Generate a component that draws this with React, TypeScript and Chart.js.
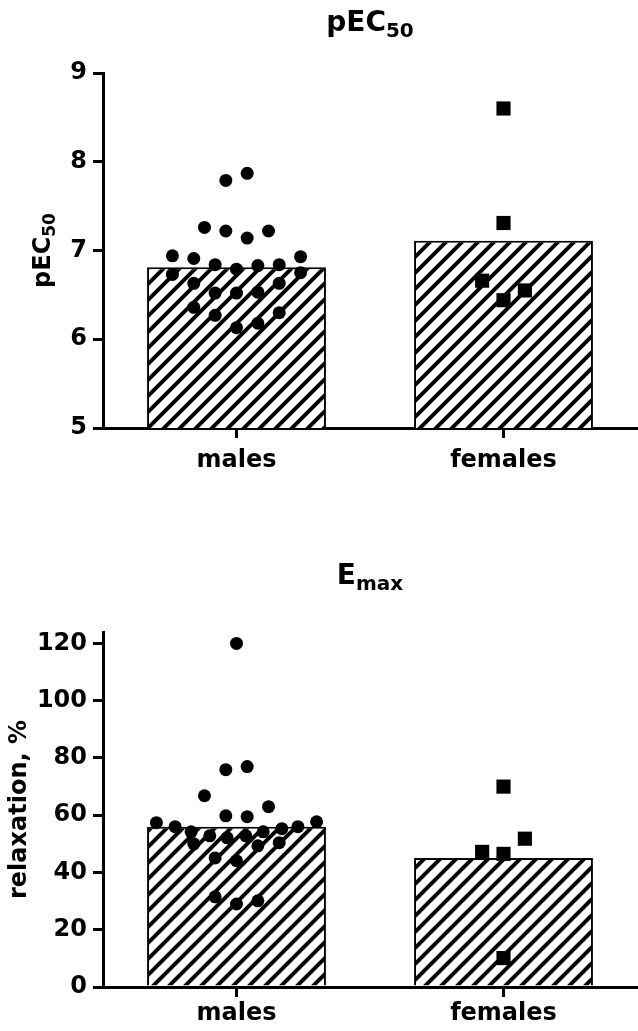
import React, { useEffect, useRef } from "react";
import { Chart, registerables } from "chart.js";

Chart.register(...registerables);

const categories = ["males", "females"];

// pEC50
const pec50Means = [6.81, 7.11];
const pec50Males = [
  7.79, 7.87, 7.26, 7.22, 7.14, 7.22, 6.94, 6.91, 6.84, 6.79, 6.83, 6.84, 6.93,
  6.73, 6.75, 6.63, 6.63, 6.52, 6.52, 6.53, 6.36, 6.27, 6.3, 6.13, 6.18,
];
const pec50MalesJitter = [
  -0.04, 0.04, -0.12, -0.04, 0.04, 0.12, -0.24, -0.16, -0.08, 0, 0.08, 0.16,
  0.24, -0.24, 0.24, -0.16, 0.16, -0.08, 0, 0.08, -0.16, -0.08, 0.16, 0, 0.08,
];
const pec50Females = [8.6, 7.31, 6.66, 6.44, 6.55];
const pec50FemalesJitter = [0, 0, -0.08, 0, 0.08];
const pec50Ticks = [5, 6, 7, 8, 9];

// Emax
const emaxMeans = [56.0, 45.1];
const emaxMales = [
  120, 75.9, 77, 66.8, 59.8, 59.5, 63, 57.4, 56, 54.2, 52.8, 52.1, 52.8, 54.2,
  55.3, 56, 57.7, 50, 49.3, 50.4, 45.1, 44.1, 31.5, 29, 30.1,
];
const emaxMalesJitter = [
  0, -0.04, 0.04, -0.12, -0.04, 0.04, 0.12, -0.3, -0.23, -0.17, -0.1, -0.035,
  0.035, 0.1, 0.17, 0.23, 0.3, -0.16, 0.08, 0.16, -0.08, 0, -0.08, 0, 0.08,
];
const emaxFemales = [70, 51.8, 47.2, 46.5, 10.1];
const emaxFemalesJitter = [0, 0.08, -0.08, 0, 0];
const emaxTicks = [0, 20, 40, 60, 80, 100, 120];

const FONT = '"DejaVu Sans", sans-serif';
const WIDTH = 638;

function makeHatch(ctx: CanvasRenderingContext2D) {
  const c = document.createElement("canvas");
  c.width = 16;
  c.height = 16;
  const g = c.getContext("2d")!;
  g.fillStyle = "#fff";
  g.fillRect(0, 0, 16, 16);
  g.strokeStyle = "#000";
  g.lineWidth = 4;
  g.beginPath();
  g.moveTo(-4, 4);
  g.lineTo(4, -4);
  g.moveTo(0, 16);
  g.lineTo(16, 0);
  g.moveTo(12, 20);
  g.lineTo(20, 12);
  g.stroke();
  return ctx.createPattern(c, "repeat")!;
}

// texte avec indice, centré sur x
function drawSub(
  ctx: CanvasRenderingContext2D,
  x: number,
  y: number,
  main: string,
  sub: string,
  size: number,
  subSize: number,
  drop: number
) {
  ctx.textAlign = "left";
  ctx.textBaseline = "alphabetic";
  ctx.font = `bold ${size}px ${FONT}`;
  const wm = ctx.measureText(main).width;
  ctx.font = `bold ${subSize}px ${FONT}`;
  const ws = sub ? ctx.measureText(sub).width : 0;
  const start = x - (wm + ws) / 2;
  ctx.font = `bold ${size}px ${FONT}`;
  ctx.fillText(main, start, y);
  if (sub) {
    ctx.font = `bold ${subSize}px ${FONT}`;
    ctx.fillText(sub, start + wm, y + drop);
  }
}

interface DotBarProps {
  height: number;
  plotTop: number;
  xAxisHeight: number;
  xLabelPad: number;
  yMin: number;
  yMax: number;
  ticks: number[];
  means: number[];
  males: number[];
  malesJitter: number[];
  females: number[];
  femalesJitter: number[];
  title: [string, string];
  titleY: number;
  yTitle: [string, string];
  yTitleX: number;
}

function DotBarChart(p: DotBarProps) {
  const canvasRef = useRef<HTMLCanvasElement>(null);
  const chartRef = useRef<Chart | null>(null);

  useEffect(() => {
    if (!canvasRef.current) return;
    const ctx = canvasRef.current.getContext("2d");
    if (!ctx) return;
    if (chartRef.current) chartRef.current.destroy();

    const pattern = makeHatch(ctx);
    const font = { family: FONT, size: 24, weight: "bold" as const };

    const labelPlugin = {
      id: "subLabels",
      afterDraw(chart: Chart) {
        const { ctx: c, chartArea } = chart;
        c.save();
        c.fillStyle = "#000";
        drawSub(c, (chartArea.left + chartArea.right) / 2, p.titleY, p.title[0], p.title[1], 28, 20, 6);
        c.translate(p.yTitleX, (chartArea.top + chartArea.bottom) / 2);
        c.rotate(-Math.PI / 2);
        drawSub(c, 0, 0, p.yTitle[0], p.yTitle[1], 24, 17, 5);
        c.restore();
      },
    };

    chartRef.current = new Chart(ctx, {
      type: "bar",
      data: {
        labels: categories,
        datasets: [
          {
            type: "scatter",
            label: categories[0],
            data: p.males.map((v, i) => ({ x: 0 + p.malesJitter[i], y: v })),
            xAxisID: "xs",
            pointStyle: "circle",
            pointRadius: 6.5,
            backgroundColor: "#000",
            borderWidth: 0,
            order: 0,
          },
          {
            type: "scatter",
            label: categories[1],
            data: p.females.map((v, i) => ({ x: 1 + p.femalesJitter[i], y: v })),
            xAxisID: "xs",
            pointStyle: "rect",
            pointRadius: 10,
            backgroundColor: "#000",
            borderWidth: 0,
            order: 0,
          },
          {
            type: "bar",
            label: "mean",
            data: p.means,
            xAxisID: "x",
            backgroundColor: pattern,
            borderColor: "#000",
            borderWidth: 2,
            grouped: false,
            barPercentage: 0.67,
            categoryPercentage: 1,
            order: 1,
          },
        ] as any,
      },
      options: {
        animation: false,
        responsive: false,
        maintainAspectRatio: false,
        layout: {
          autoPadding: false,
          padding: { top: p.plotTop, right: 1, left: 0, bottom: 0 },
        },
        plugins: {
          legend: { display: false },
          tooltip: { enabled: false },
          title: { display: false },
        },
        scales: {
          x: {
            type: "category",
            offset: true,
            afterFit: (s: any) => {
              s.height = p.xAxisHeight;
            },
            ticks: { color: "#000", font, padding: p.xLabelPad },
            grid: {
              drawOnChartArea: false,
              offset: false,
              tickLength: 10,
              color: "#000",
              lineWidth: 3,
            },
            border: { color: "#000", width: 3 },
          },
          xs: {
            type: "linear",
            min: -0.5,
            max: 1.5,
            offset: false,
            display: false,
          },
          y: {
            type: "linear",
            min: p.yMin,
            max: p.yMax,
            afterBuildTicks: (s: any) => {
              s.ticks = p.ticks.map((v) => ({ value: v }));
            },
            afterFit: (s: any) => {
              s.width = 103;
            },
            ticks: { color: "#000", font, padding: 6 },
            grid: {
              drawOnChartArea: false,
              tickLength: 10,
              color: "#000",
              lineWidth: 3,
            },
            border: { color: "#000", width: 3 },
          },
        } as any,
      },
      plugins: [labelPlugin],
    });

    return () => {
      if (chartRef.current) {
        chartRef.current.destroy();
        chartRef.current = null;
      }
    };
  }, [p]);

  return (
    <div style={{ width: WIDTH, height: p.height }}>
      <canvas ref={canvasRef} width={WIDTH} height={p.height} style={{ display: "block" }} />
    </div>
  );
}

const topProps: DotBarProps = {
  height: 515,
  plotTop: 73,
  xAxisHeight: 87,
  xLabelPad: 8,
  yMin: 5,
  yMax: 9,
  ticks: pec50Ticks,
  means: pec50Means,
  males: pec50Males,
  malesJitter: pec50MalesJitter,
  females: pec50Females,
  femalesJitter: pec50FemalesJitter,
  title: ["pEC", "50"],
  titleY: 31,
  yTitle: ["pEC", "50"],
  yTitleX: 50,
};

const bottomProps: DotBarProps = {
  height: 516,
  plotTop: 117,
  xAxisHeight: 44,
  xLabelPad: 2,
  yMin: 0,
  yMax: 124,
  ticks: emaxTicks,
  means: emaxMeans,
  males: emaxMales,
  malesJitter: emaxMalesJitter,
  females: emaxFemales,
  femalesJitter: emaxFemalesJitter,
  title: ["E", "max"],
  titleY: 69,
  yTitle: ["relaxation, %", ""],
  yTitleX: 26,
};

export default function App() {
  return (
    <div style={{ position: "absolute", left: 0, top: 0, width: WIDTH, background: "#fff" }}>
      <DotBarChart {...topProps} />
      <DotBarChart {...bottomProps} />
    </div>
  );
}
